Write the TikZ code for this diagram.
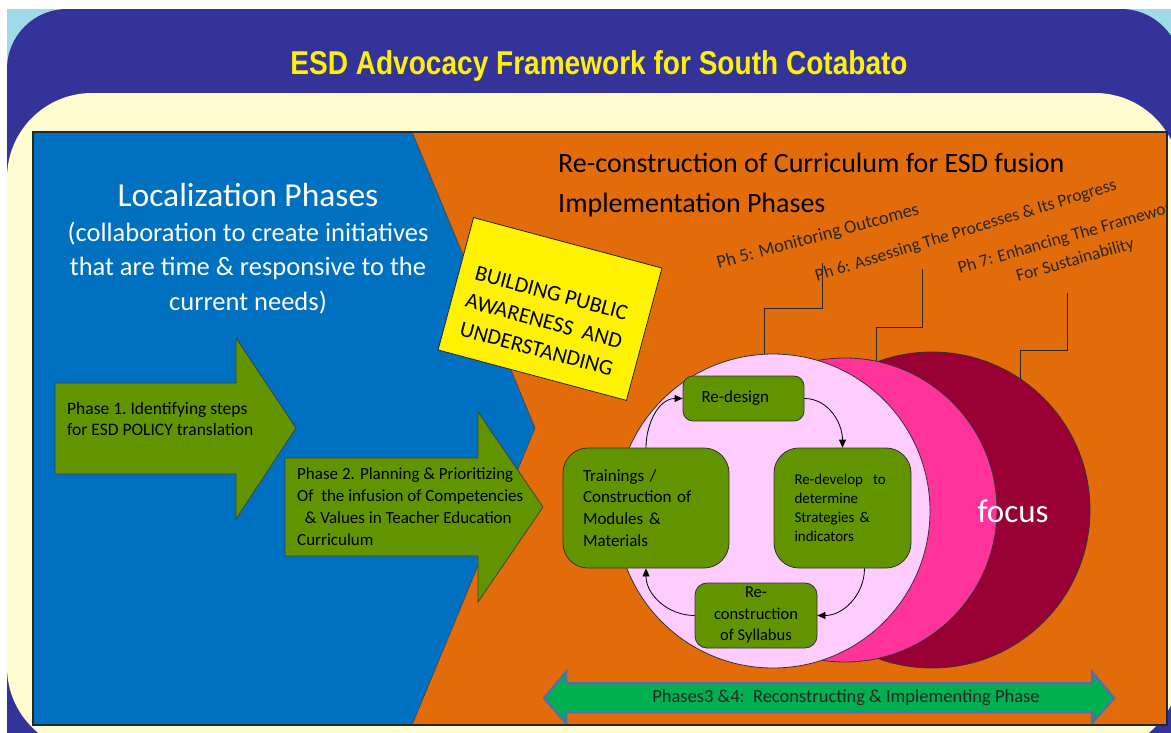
\documentclass[tikz,border=0pt]{standalone}
\usepackage{fontspec}
\setmainfont{Carlito}
\newfontfamily\titlefont[FakeStretch=0.85]{Liberation Sans}
\usetikzlibrary{positioning, arrows.meta}

\definecolor{purplebg}{RGB}{51,51,153}
\definecolor{cyanbg}{RGB}{160,218,232}
\definecolor{creambg}{RGB}{255,253,208}
\definecolor{locblue}{RGB}{0,112,192}
\definecolor{implorange}{RGB}{227,108,10}
\definecolor{boxgreen}{RGB}{98,148,0}
\definecolor{lightpink}{RGB}{255,204,255}
\definecolor{hotpink}{RGB}{255,51,153}
\definecolor{maroonc}{RGB}{153,0,51}
\definecolor{bargreen}{RGB}{0,176,80}
\definecolor{barblue}{RGB}{79,112,170}

\begin{document}
\begin{tikzpicture}[x=1pt, y=1pt,
    greenbox/.style={draw=black!80, fill=boxgreen, line width=0.8pt, inner sep=0pt},
    cyc/.style={-{Triangle[length=8pt,width=7pt]}, line width=0.8pt, black},
    leader/.style={draw=black!85, line width=1pt},
    phlabel/.style={font=\fontsize{17.5}{24}\selectfont, text=black!85, inner sep=0pt},
    ring/.style={circle, draw=black!80, line width=0.8pt, inner sep=0pt}]

  % slide background
  \fill[white] (0,0) rectangle (1171,-732);
  \useasboundingbox (0,0) rectangle (1171,-732);
  \fill[cyanbg] (7,-9) rectangle (1171,-732);
  \fill[purplebg, rounded corners=60] (7,-9) rectangle (1181,-800);
  \fill[creambg, rounded corners=85] (7,-93) rectangle (1180,-752);

  \node[font=\fontsize{33}{38}\titlefont\bfseries, text=yellow] (title) at (599,-66)
      {ESD Advocacy Framework for South Cotabato};

  % the two halves of the framework
  \fill[implorange] (33,-132) rectangle (1167,-725);
  \filldraw[fill=locblue, draw=black!70, line width=0.8pt]
      (33,-132) -- (412,-132) -- (535,-428) -- (412,-725) -- (33,-725) -- cycle;

  \node[font=\fontsize{33.5}{40}\selectfont, text=white] (loctitle) at (248,-195) {Localization Phases};
  \node[font=\fontsize{26.5}{34.5}\selectfont, text=white, align=center] (locsub) at (248,-268)
      {(collaboration to create initiatives\\that are time \& responsive to the\\current needs)};

  \node[anchor=west, align=left, font=\fontsize{28}{40}\selectfont, inner sep=0pt] (imphead) at (558,-185)
      {Re-construction of Curriculum for ESD fusion\\Implementation Phases};

  % phase arrows
  \filldraw[fill=boxgreen, draw=black!75, line width=0.8pt]
      (55,-383) -- (236,-383) -- (236,-338) -- (296,-428) -- (236,-519) -- (236,-474) -- (55,-474) -- cycle;
  \filldraw[fill=boxgreen, draw=black!75, line width=0.8pt]
      (285,-458) -- (478,-458) -- (478,-412) -- (543,-507) -- (478,-602) -- (478,-556) -- (285,-556) -- cycle;
  \node[anchor=west, align=left, inner sep=0pt, font=\fontsize{17.5}{21}\selectfont] (ph1) at (67,-419)
      {Phase 1.\ Identifying steps\\for ESD POLICY translation};
  \node[anchor=west, align=left, inner sep=0pt, font=\fontsize{17}{22}\selectfont] (ph2) at (297,-507)
      {Phase 2. Planning \& Prioritizing\\Of\ \ the infusion of Competencies\\\ \ \& Values in Teacher Education\\Curriculum};

  % awareness box
  \node[draw=black!85, fill=yellow, line width=0.8pt, rotate=-15, minimum width=195, minimum height=137] (bpa) at (550,-309) {};
  \node[rotate=-15, align=center, font=\fontsize{22}{29}\selectfont] (bpatext) at (544,-321)
      {BUILDING PUBLIC\\AWARENESS\ \ AND\\UNDERSTANDING};

  % focus circles
  \node[ring, fill=maroonc, minimum size=316] (focusc) at (932,-510) {};
  \node[ring, fill=hotpink, minimum size=304] (assessc) at (845,-510) {};
  \node[ring, fill=lightpink, minimum size=314] (monc) at (773,-511) {};
  \node[text=white, font=\fontsize{33}{40}\selectfont] (focus) at (1013,-511) {focus};

  % redesign cycle
  \node[greenbox, rounded corners=10, minimum width=121, minimum height=45, text width=84, align=left,
        font=\fontsize{17}{21}\selectfont] (redesign) at (743.5,-398.5) {Re-design};
  \node[greenbox, rounded corners=25, minimum width=137, minimum height=120, text width=96, align=left,
        font=\fontsize{15}{19}\selectfont] (redevelop) at (842.5,-508)
      {Re-develop\ \ to\\determine\\Strategies \&\\indicators};
  \node[greenbox, rounded corners=25, minimum width=166, minimum height=120, text width=126, align=left,
        font=\fontsize{17}{21.7}\selectfont] (trainings) at (646,-508)
      {Trainings /\\Construction of\\Modules \&\\Materials};
  \node[greenbox, rounded corners=12, minimum width=122, minimum height=65, align=center,
        font=\fontsize{16.5}{21.5}\selectfont] (syllabus) at (756,-615.5)
      {Re-\\construction\\of Syllabus};

  \draw[cyc] (redesign.east) to[out=0, in=90] (redevelop.north);
  \draw[cyc] (redevelop.-70) to[out=-90, in=0] (syllabus.east);
  \draw[cyc] (syllabus.west) to[out=180, in=-90] (trainings.south);
  \draw[cyc] (trainings.north) to[out=90, in=180] (redesign.west);

  % phase 5 to 7 call-outs
  \coordinate (ph5foot) at (822,-263);
  \coordinate (ph6foot) at (922,-269);
  \coordinate (ph7foot) at (1067,-293);
  \draw[leader] (ph5foot) -- ++(0,-45) -| (monc.93);
  \draw[leader] (ph6foot) -- ++(0,-58) -| (assessc.78);
  \draw[leader] (ph7foot) -- ++(0,-57) -| (focusc.56);

  \node[phlabel, rotate=15, font=\fontsize{18.5}{24}\selectfont] (ph5) at (818,-237) {Ph 5: Monitoring Outcomes};
  \node[phlabel, rotate=17] (ph6) at (966,-231) {Ph 6: Assessing The Processes \& Its Progress};
  \begin{scope}
    \clip (33,-132) rectangle (1167,-725);
    \node[phlabel, rotate=16, align=center] (ph7) at (1072,-249)
        {Ph 7: Enhancing The Framework\\For Sustainability};
  \end{scope}

  % phases 3 and 4 bar
  \filldraw[fill=bargreen, draw=barblue, line width=2.5pt, line join=miter]
      (544,-698) -- (566,-672) -- (566,-683) -- (1092,-683) -- (1092,-672) -- (1114,-698)
      -- (1092,-723) -- (1092,-712) -- (566,-712) -- (566,-723) -- cycle;
  \node[font=\fontsize{18.5}{22}\selectfont, text=black!85] (bar) at (846,-698)
      {Phases3 \&4:\ \ Reconstructing \& Implementing Phase};

  \draw[black!85, line width=1.5pt] (33,-132) rectangle (1167,-725);
\end{tikzpicture}
\end{document}
